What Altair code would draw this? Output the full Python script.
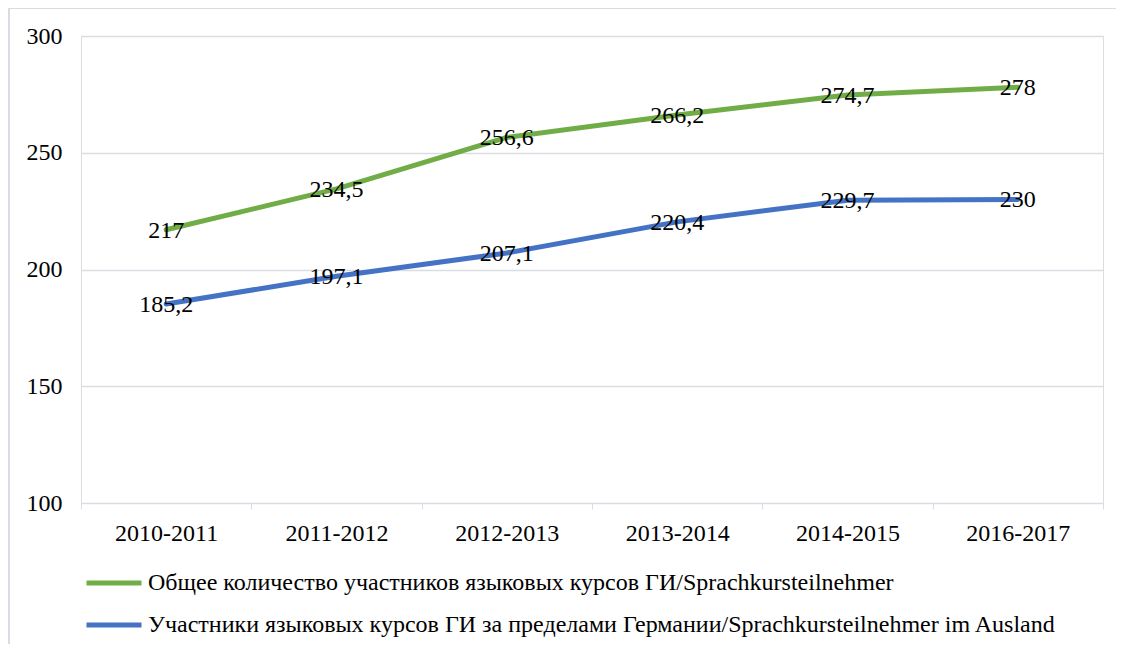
import altair as alt
import pandas as pd

periods = ["2010-2011", "2011-2012", "2012-2013", "2013-2014", "2014-2015", "2016-2017"]
series_total = "Общее количество участников языковых курсов ГИ/Sprachkursteilnehmer"
series_abroad = "Участники языковых курсов ГИ за пределами Германии/Sprachkursteilnehmer im Ausland"
total_values = [217, 234.5, 256.6, 266.2, 274.7, 278]
abroad_values = [185.2, 197.1, 207.1, 220.4, 229.7, 230]
series_order = [series_total, series_abroad]
series_colors = ["#70AD47", "#4472C4"]
y_ticks = [100, 150, 200, 250, 300]

rows = []
for p, v in zip(periods, total_values):
    rows.append({"period": p, "series": series_total, "value": v})
for p, v in zip(periods, abroad_values):
    rows.append({"period": p, "series": series_abroad, "value": v})
df = pd.DataFrame(rows)

FONT = "'Liberation Serif', 'Times New Roman', serif"
W, H = 1022, 467

base = alt.Chart(df).encode(
    x=alt.X("period:N", sort=periods, title=None,
            scale=alt.Scale(paddingInner=0, paddingOuter=0),
            axis=alt.Axis(labelAngle=0, tickBand="extent", domainColor="#D9DDE3",
                          tickColor="#D9DDE3", tickSize=6, labelFontSize=24,
                          labelFont=FONT, labelColor="#000000", labelPadding=12,
                          grid=False)),
    y=alt.Y("value:Q", title=None,
            scale=alt.Scale(domain=[100, 300], nice=False, zero=False),
            axis=alt.Axis(values=y_ticks, domain=False, ticks=False,
                          gridColor="#D9DDE3", gridWidth=1.3, labelFontSize=24,
                          labelFont=FONT, labelColor="#000000", labelPadding=19)),
)

lines = base.mark_line(strokeWidth=5, strokeCap="round", strokeJoin="round").encode(
    color=alt.Color("series:N", sort=series_order,
                    scale=alt.Scale(domain=series_order, range=series_colors),
                    legend=alt.Legend(title=None, orient="none", legendX=3, legendY=517,
                                      direction="vertical", symbolType="stroke",
                                      symbolSize=3025, symbolStrokeWidth=5,
                                      labelFont=FONT, labelFontSize=24,
                                      labelColor="#000000", labelOffset=4,
                                      rowPadding=-13, padding=0, labelLimit=1100))
)

labels = base.transform_calculate(
    lbl="replace(toString(datum.value), '.', ',')"
).mark_text(font=FONT, fontSize=24, color="#000000", align="center",
            baseline="middle", dy=1).encode(text="lbl:N")

border_left = alt.Chart(df).mark_rule(color="#D9DDE3", strokeWidth=1.5).encode(
    x=alt.value(-72), y=alt.value(-28), y2=alt.value(H + 150))
border_top = alt.Chart(df).mark_rule(color="#D9DDE3", strokeWidth=1.5).encode(
    x=alt.value(-72), x2=alt.value(W + 20), y=alt.value(-28))

chart = alt.layer(border_left, border_top, lines, labels).properties(
    width=W, height=H,
    autosize=alt.AutoSizeParams(type="none"),
    padding={"left": 73, "top": 28, "right": 13, "bottom": 141},
).configure_view(strokeWidth=0).configure(background="#FFFFFF")

chart.save("out.html", embed_options={"renderer": "svg", "actions": False})
